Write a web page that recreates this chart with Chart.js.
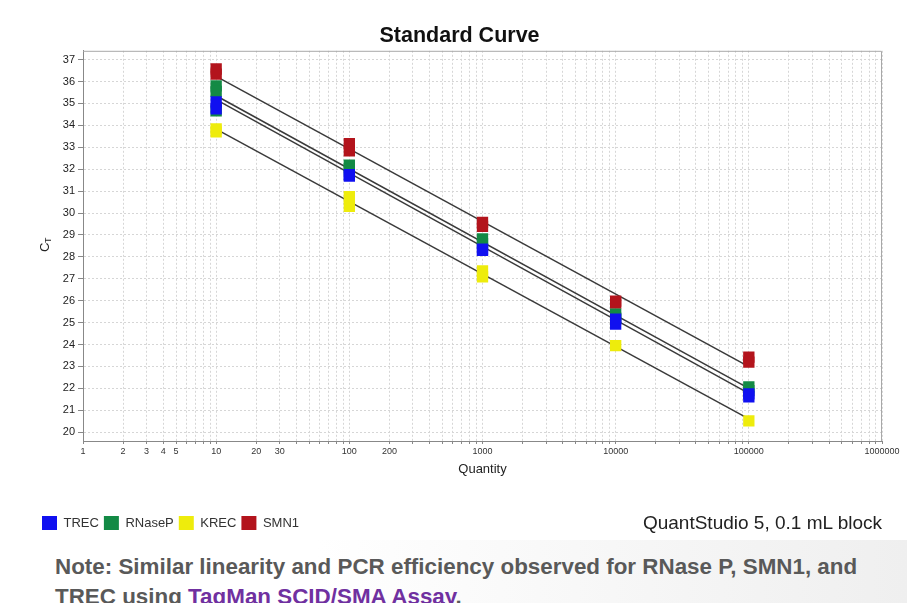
<!DOCTYPE html>
<html>
<head>
<meta charset="utf-8">
<script src="https://cdn.jsdelivr.net/npm/chart.js@4/dist/chart.umd.min.js"></script>
<style>
  html, body { margin: 0; padding: 0; width: 907px; height: 603px; overflow: hidden; background: #fff; font-family: "Liberation Sans", Arial, sans-serif; }
  #band { position: absolute; left: 0; top: 540px; width: 907px; height: 63px; background: linear-gradient(to right, #ffffff 0%, #ffffff 35%, #efefef 100%); }
  #chart { position: absolute; left: 0; top: 0; }
  #qs { position: absolute; right: 25px; top: 512px; font-size: 19px; color: #222; }
  #note { position: absolute; left: 55px; top: 552px; font-size: 22.4px; font-weight: bold; color: #595959; line-height: 30px; white-space: nowrap; }
  #note .link { color: #7030a0; }
</style>
</head>
<body>
<div id="band"></div>
<canvas id="chart" width="920" height="545"></canvas>
<div id="qs">QuantStudio 5, 0.1 mL block</div>
<div id="note">Note: Similar linearity and PCR efficiency observed for RNase P, SMN1, and<br>TREC using <span class="link">TagMan SCID/SMA Assay</span>.</div>
<script>
'use strict';

// dilution series (copies) and Ct replicates
const quantities = [10, 100, 1000, 10000, 100000];
const seriesNames = ['TREC', 'RNaseP', 'KREC', 'SMN1'];
const seriesColors = ['#1010f0', '#138a45', '#eeec0c', '#b3141c'];

const trecCt = [[35.07, 34.75], [31.75, 31.68], [28.35, 28.30], [25.16, 24.93], [21.75, 21.61]];
const rnasepCt = [[35.80, 35.55, 34.66], [32.18, 32.00], [28.82, 28.60], [25.39, 25.20], [22.07, 21.90]];
const krecCt = [[33.84, 33.70], [30.75, 30.30], [27.36, 27.09], [23.95], [20.52]];
const smn1Ct = [[36.57, 36.34], [33.16, 32.84], [29.57, 29.39], [25.98, 25.89], [23.43, 23.20]];

// standard-curve line ends at 10 and 100000 copies, same series order
const fitStartCt = [35.17, 35.35, 33.83, 36.23];
const fitEndCt = [21.77, 22.00, 20.61, 22.99];

const xTickLabels = [1, 2, 3, 4, 5, 10, 20, 30, 100, 200, 1000, 10000, 100000, 1000000];
const yTicks = [20, 21, 22, 23, 24, 25, 26, 27, 28, 29, 30, 31, 32, 33, 34, 35, 36, 37];

const ctSeries = [trecCt, rnasepCt, krecCt, smn1Ct];

// minor log grid: 1..9 per decade
const xGrid = [];
[1, 10, 100, 1000, 10000, 100000].forEach(d => {
  for (let m = 1; m <= 9; m++) xGrid.push(m * d);
});
xGrid.push(1000000);

const pointSets = ctSeries.map((reps, i) => ({
  label: seriesNames[i],
  type: 'scatter',
  data: quantities.flatMap((q, k) => reps[k].map(ct => ({ x: q, y: ct }))),
  backgroundColor: seriesColors[i],
  borderColor: seriesColors[i],
  borderWidth: 0,
  pointStyle: 'rect',
  pointRadius: 8,
  pointHoverRadius: 8,
  order: 0
}));

const lineSets = seriesNames.map((name, i) => ({
  label: name + ' fit',
  type: 'line',
  data: [{ x: quantities[0], y: fitStartCt[i] }, { x: quantities[quantities.length - 1], y: fitEndCt[i] }],
  borderColor: '#3a3a3a',
  borderWidth: 1.5,
  pointRadius: 0,
  fill: false,
  order: 10
}));

const framePlugin = {
  id: 'frame',
  beforeDatasetsDraw(chart) {
    const { ctx, chartArea: a } = chart;
    ctx.save();
    ctx.strokeStyle = '#a8a8a8';
    ctx.lineWidth = 1;
    ctx.beginPath();
    ctx.moveTo(a.left, a.top + 0.5);
    ctx.lineTo(a.right - 0.5, a.top + 0.5);
    ctx.lineTo(a.right - 0.5, a.bottom);
    ctx.stroke();
    ctx.restore();
  },
  afterDraw(chart) {
    // y axis title: C with subscript T
    const ctx = chart.ctx;
    ctx.save();
    ctx.translate(49, 246);
    ctx.rotate(-Math.PI / 2);
    ctx.fillStyle = '#222';
    ctx.textBaseline = 'alphabetic';
    ctx.font = '13px "Liberation Sans", Arial, sans-serif';
    ctx.fillText('C', -6, 0);
    ctx.font = '9px "Liberation Sans", Arial, sans-serif';
    ctx.fillText('T', 3, 2);
    ctx.restore();
  }
};

new Chart(document.getElementById('chart'), {
  data: { datasets: [...pointSets, ...lineSets] },
  options: {
    responsive: false,
    animation: false,
    layout: { padding: { left: 37, right: 38, top: 0, bottom: 5 } },
    plugins: {
      title: {
        display: true,
        text: 'Standard Curve',
        color: '#111',
        font: { family: '"Liberation Sans", Arial, sans-serif', size: 21.5, weight: 'bold' },
        padding: { top: 23, bottom: 2 }
      },
      legend: {
        position: 'bottom',
        align: 'start',
        labels: {
          filter: item => item.datasetIndex < seriesNames.length,
          boxWidth: 15,
          boxHeight: 14,
          padding: 5,
          color: '#333',
          font: { family: '"Liberation Sans", Arial, sans-serif', size: 13 }
        }
      },
      tooltip: { enabled: false }
    },
    scales: {
      x: {
        type: 'logarithmic',
        position: 'bottom',
        min: 1,
        max: 1000000,
        afterBuildTicks: axis => { axis.ticks = xGrid.map(v => ({ value: v })); },
        afterFit: axis => { axis.height = 70; },
        ticks: {
          autoSkip: false,
          maxRotation: 0,
          padding: 2,
          color: '#333',
          font: { family: '"Liberation Sans", Arial, sans-serif', size: 9 },
          callback: v => xTickLabels.includes(v) ? String(v) : ''
        },
        grid: { color: '#d6d6d6', tickLength: 3, tickColor: '#888' },
        border: { display: true, color: '#888', dash: [2, 2] },
        title: {
          display: true,
          text: 'Quantity',
          color: '#222',
          font: { family: '"Liberation Sans", Arial, sans-serif', size: 13 },
          padding: { top: 0, bottom: 34 }
        }
      },
      y: {
        type: 'linear',
        min: 19.6,
        max: 37.4,
        afterBuildTicks: axis => { axis.ticks = yTicks.map(v => ({ value: v })); },
        afterFit: axis => { axis.width = 46; },
        ticks: {
          padding: 3,
          color: '#222',
          font: { family: '"Liberation Sans", Arial, sans-serif', size: 11 }
        },
        grid: { color: '#d6d6d6', tickLength: 5, tickColor: '#888' },
        border: { display: true, color: '#888', dash: [2, 2] }
      }
    }
  },
  plugins: [framePlugin]
});
</script>
</body>
</html>
